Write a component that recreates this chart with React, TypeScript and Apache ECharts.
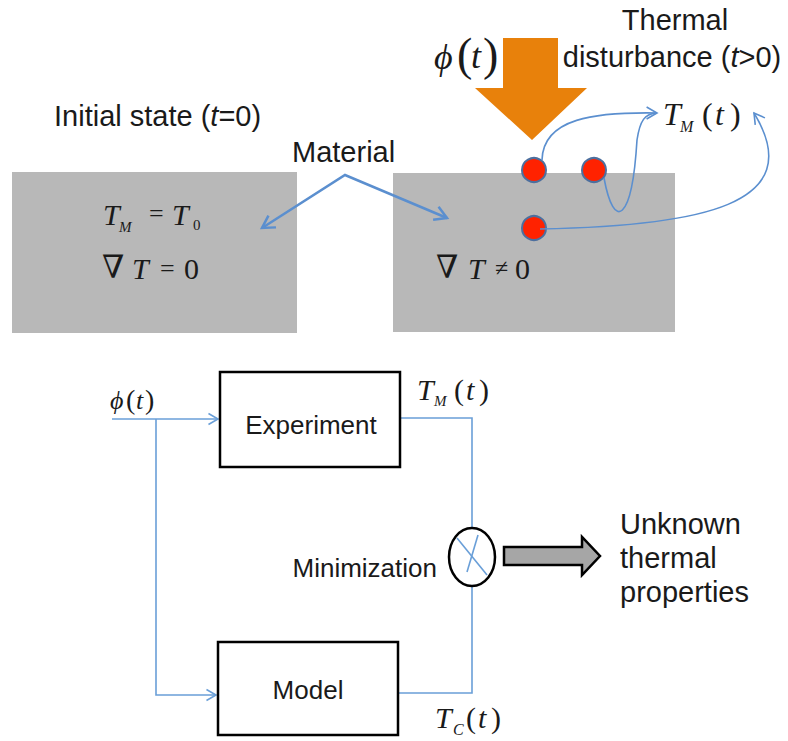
import React, { useEffect, useRef } from "react";
import * as echarts from "echarts";

// Text content of the diagram
const initialLabel = ["Initial state (", "t", "=0)"];
const materialLabel = "Material";
const thermalLabel = ["Thermal", "disturbance (", "t", ">0)"];
const blockLabels = ["Experiment", "Model", "Minimization"];
const resultLines = ["Unknown", "thermal", "properties"];

const SANS = '"Liberation Sans", Arial, sans-serif';
const SERIF = '"Liberation Serif", "DejaVu Serif", serif';
const NABLA = '"DejaVu Serif", serif';
const BLUE = "#5b8fcf";
const BLUE2 = "#6a9fd8";

function txt(x: number, y: number, text: string, size: number, opt: any = {}) {
  return {
    type: "text",
    x,
    y,
    z: 10,
    style: {
      text,
      fontSize: size,
      fontFamily: opt.family || SANS,
      fontStyle: opt.italic ? "italic" : "normal",
      fill: opt.fill || "#1a1a1a",
      align: opt.align || "left",
      verticalAlign: "middle",
    },
  };
}

function richTxt(x: number, y: number, parts: string[], size: number, align: string) {
  const text = `${parts[0]}{i|${parts[1]}}${parts[2]}`;
  return {
    type: "text",
    x,
    y,
    z: 10,
    style: {
      text,
      fontSize: size,
      fontFamily: SANS,
      fill: "#1a1a1a",
      align,
      verticalAlign: "middle",
      rich: {
        i: { fontSize: size, fontFamily: SANS, fontStyle: "italic", fill: "#1a1a1a" },
      },
    },
  };
}

function head(tx: number, ty: number, fx: number, fy: number, color: string, lw: number, len = 12, ang = Math.PI / 6) {
  const a = Math.atan2(ty - fy, tx - fx);
  return {
    type: "polyline",
    z: 5,
    shape: {
      points: [
        [tx - len * Math.cos(a - ang), ty - len * Math.sin(a - ang)],
        [tx, ty],
        [tx - len * Math.cos(a + ang), ty - len * Math.sin(a + ang)],
      ],
    },
    style: { stroke: color, lineWidth: lw, fill: null },
  };
}

function line(points: number[][], color: string, lw: number) {
  return { type: "polyline", z: 4, shape: { points }, style: { stroke: color, lineWidth: lw, fill: null } };
}

function bez(x1: number, y1: number, c1x: number, c1y: number, c2x: number, c2y: number, x2: number, y2: number) {
  return {
    type: "bezierCurve",
    z: 4,
    shape: { x1, y1, cpx1: c1x, cpy1: c1y, cpx2: c2x, cpy2: c2y, x2, y2 },
    style: { stroke: BLUE, lineWidth: 1.6, fill: null },
  };
}

function buildGraphics() {
  const g: any[] = [];
  // material blocks
  g.push({ type: "rect", z: 1, shape: { x: 12, y: 172, width: 285, height: 161 }, style: { fill: "#b8b8b8" } });
  g.push({ type: "rect", z: 1, shape: { x: 393, y: 173, width: 282, height: 159 }, style: { fill: "#b8b8b8" } });

  // top labels
  g.push(richTxt(54, 116, initialLabel, 29, "left"));
  g.push(txt(292, 152, materialLabel, 29));
  g.push(txt(675, 20, thermalLabel[0], 29, { align: "center" }));
  g.push(richTxt(672, 57, thermalLabel.slice(1), 29, "center"));

  // material arrows
  g.push(line([[262, 228], [345, 175], [447, 218]], BLUE, 2.5));
  g.push(head(262, 228, 345, 175, BLUE, 2.5, 14));
  g.push(head(447, 218, 345, 175, BLUE, 2.5, 14));

  // equations in blocks
  g.push(txt(103, 214, "T", 30, { family: SERIF, italic: true }));
  g.push(txt(119, 227, "M", 15, { family: SERIF, italic: true }));
  g.push(txt(149, 213, "=", 26, { family: SERIF }));
  g.push(txt(172, 214, "T", 30, { family: SERIF, italic: true }));
  g.push(txt(193, 225, "0", 15, { family: SERIF }));
  g.push(txt(102, 267, "∇", 32, { family: NABLA }));
  g.push(txt(132, 268, "T", 30, { family: SERIF, italic: true }));
  g.push(txt(160, 268, "=", 26, { family: SERIF }));
  g.push(txt(184, 268, "0", 30, { family: SERIF }));
  g.push(txt(436, 267, "∇", 32, { family: NABLA }));
  g.push(txt(468, 268, "T", 30, { family: SERIF, italic: true }));
  g.push(txt(495, 268, "≠", 24, { family: SERIF }));
  g.push(txt(515, 268, "0", 30, { family: SERIF }));

  // orange heat flux arrow
  g.push({
    type: "polygon",
    z: 2,
    shape: { points: [[503, 38], [558, 38], [558, 88], [587, 88], [532, 140], [475, 88], [503, 88]] },
    style: { fill: "#e8810b" },
  });
  // phi(t) top
  g.push(txt(434, 57, "ϕ", 36, { family: SERIF, italic: true }));
  g.push(txt(457, 54, "(", 46, { family: SERIF }));
  g.push(txt(471, 56, "t", 36, { family: SERIF, italic: true }));
  g.push(txt(483, 54, ")", 46, { family: SERIF }));

  // T_M(t) top right
  g.push(txt(663, 114, "T", 32, { family: SERIF, italic: true }));
  g.push(txt(680, 126, "M", 16, { family: SERIF, italic: true }));
  g.push(txt(702, 114, "(", 32, { family: SERIF }));
  g.push(txt(715, 114, "t", 32, { family: SERIF, italic: true }));
  g.push(txt(730, 114, ")", 32, { family: SERIF }));

  // sensor curves
  g.push(bez(542, 160, 543, 118, 595, 112, 657, 113));
  g.push(head(657, 113, 630, 113, BLUE, 1.6, 12));
  g.push(bez(604, 178, 614, 232, 632, 222, 637, 140));
  g.push(bez(637, 140, 640, 120, 645, 114, 656, 113));
  g.push(bez(540, 229, 700, 226, 810, 205, 754, 113));
  g.push(head(754, 113, 770, 135, BLUE, 1.6, 12));

  // sensors
  const dots = [[534, 170], [594, 170], [534, 228]];
  for (const [cx, cy] of dots) {
    g.push({ type: "circle", z: 3, shape: { cx, cy, r: 12 }, style: { fill: "#ff2200", stroke: "#4d6f9e", lineWidth: 2 } });
  }

  // bottom block diagram
  g.push({ type: "rect", z: 6, shape: { x: 220, y: 372, width: 180, height: 95 }, style: { fill: "none", stroke: "#000", lineWidth: 2.5 } });
  g.push({ type: "rect", z: 6, shape: { x: 218, y: 642, width: 180, height: 93 }, style: { fill: "none", stroke: "#000", lineWidth: 2.5 } });
  g.push(txt(311, 425, blockLabels[0], 26, { align: "center" }));
  g.push(txt(308, 690, blockLabels[1], 26, { align: "center" }));
  g.push(txt(437, 568, blockLabels[2], 26, { align: "right" }));

  // input lines
  g.push(line([[112, 419], [218, 419]], BLUE2, 1.6));
  g.push(head(218, 419, 200, 419, BLUE2, 1.6, 11));
  g.push(line([[156, 419], [156, 695], [216, 695]], BLUE2, 1.6));
  g.push(head(216, 695, 200, 695, BLUE2, 1.6, 11));
  // output lines
  g.push(line([[400, 418], [472, 418], [472, 528]], BLUE2, 1.6));
  g.push(line([[472, 586], [472, 693], [398, 693]], BLUE2, 1.6));
  // comparator
  g.push({ type: "ellipse", z: 6, shape: { cx: 472, cy: 557, rx: 23, ry: 29 }, style: { fill: "none", stroke: "#000", lineWidth: 2.5 } });
  g.push(line([[457, 538], [487, 575]], BLUE2, 1.6));
  g.push(line([[478, 535], [467, 572]], BLUE2, 1.6));

  // grey result arrow
  g.push({
    type: "polygon",
    z: 6,
    shape: { points: [[504, 547], [582, 547], [582, 537], [600, 556], [582, 575], [582, 565], [504, 565]] },
    style: { fill: "#a6a6a6", stroke: "#000", lineWidth: 2.5, lineJoin: "miter" },
  });
  g.push(txt(620, 524, resultLines[0], 29));
  g.push(txt(620, 558, resultLines[1], 29));
  g.push(txt(620, 592, resultLines[2], 29));

  // bottom math labels
  g.push(txt(110, 400, "ϕ", 26, { family: SERIF, italic: true }));
  g.push(txt(126, 399, "(", 28, { family: SERIF }));
  g.push(txt(136, 400, "t", 26, { family: SERIF, italic: true }));
  g.push(txt(145, 399, ")", 28, { family: SERIF }));

  g.push(txt(417, 389, "T", 30, { family: SERIF, italic: true }));
  g.push(txt(434, 401, "M", 15, { family: SERIF, italic: true }));
  g.push(txt(454, 389, "(", 30, { family: SERIF }));
  g.push(txt(466, 389, "t", 30, { family: SERIF, italic: true }));
  g.push(txt(479, 389, ")", 30, { family: SERIF }));

  g.push(txt(435, 717, "T", 30, { family: SERIF, italic: true }));
  g.push(txt(453, 729, "C", 16, { family: SERIF, italic: true }));
  g.push(txt(466, 717, "(", 30, { family: SERIF }));
  g.push(txt(478, 717, "t", 30, { family: SERIF, italic: true }));
  g.push(txt(491, 717, ")", 30, { family: SERIF }));

  return g;
}

export default function App() {
  const ref = useRef<HTMLDivElement>(null);
  useEffect(() => {
    if (!ref.current) return;
    const chart = echarts.init(ref.current, null, { renderer: "svg" });
    chart.setOption({
      animation: false,
      backgroundColor: "#ffffff",
      graphic: { elements: buildGraphics() },
    });
    return () => chart.dispose();
  }, []);
  return (
    <div
      ref={ref}
      style={{ position: "absolute", left: 0, top: 0, width: 788, height: 741, background: "#fff" }}
    />
  );
}
